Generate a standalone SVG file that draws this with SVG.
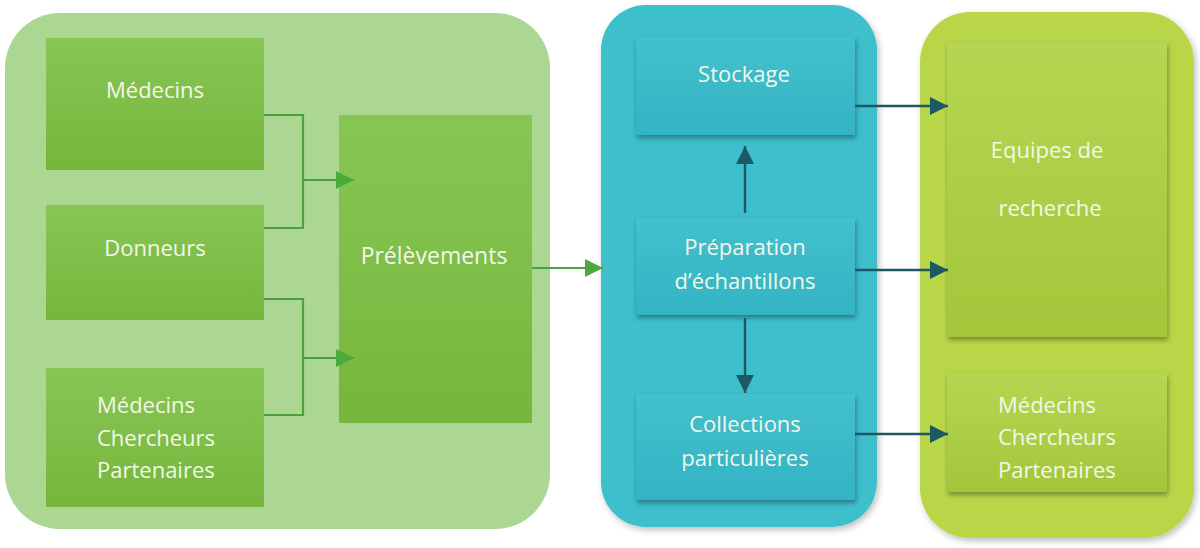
<svg xmlns="http://www.w3.org/2000/svg" width="1200" height="548" viewBox="0 0 1200 548">
<defs>
<linearGradient id="gBox" x1="0" y1="0" x2="0" y2="1">
<stop offset="0" stop-color="#88c654"/><stop offset="1" stop-color="#76b63c"/>
</linearGradient>
<linearGradient id="bBox" x1="0" y1="0" x2="0" y2="1">
<stop offset="0" stop-color="#44c0cd"/><stop offset="1" stop-color="#33b3c3"/>
</linearGradient>
<linearGradient id="yBox" x1="0" y1="0" x2="0" y2="1">
<stop offset="0" stop-color="#b6d652"/><stop offset="1" stop-color="#a3c63a"/>
</linearGradient>
<filter id="sh" x="-10%" y="-10%" width="125%" height="125%">
<feDropShadow dx="1" dy="3" stdDeviation="2.5" flood-color="#000" flood-opacity="0.35"/>
</filter>
<filter id="shC" x="-10%" y="-10%" width="125%" height="125%">
<feDropShadow dx="2" dy="3" stdDeviation="3" flood-color="#000" flood-opacity="0.25"/>
</filter>
<marker id="ag" viewBox="0 0 10 10" refX="10" refY="5" markerWidth="18" markerHeight="18" markerUnits="userSpaceOnUse" orient="auto">
<path d="M0,0 L10,5 L0,10 Z" fill="#4aaa3c"/>
</marker>
<marker id="ab" viewBox="0 0 10 10" refX="10" refY="5" markerWidth="18" markerHeight="18" markerUnits="userSpaceOnUse" orient="auto">
<path d="M0,0 L10,5 L0,10 Z" fill="#1d5866"/>
</marker>
</defs>
<style>
text{font-family:"Open Sans","Noto Sans","Liberation Sans",sans-serif;font-size:22px;fill:#f3f7ea}
.c{text-anchor:middle}
.gl{stroke:#4aa23c;stroke-width:2.2;fill:none}
.bl{stroke:#1d5866;stroke-width:2.4;fill:none}
</style>
<rect width="1200" height="548" fill="#ffffff"/>
<g id="container-left"><rect x="5" y="13" width="545" height="516" rx="55" fill="#abd793"/></g>
<g id="container-mid"><rect x="601" y="5" width="276" height="522" rx="45" fill="#3ebfcc" filter="url(#shC)"/></g>
<g id="container-right"><rect x="920" y="12" width="274" height="526" rx="50" fill="#b9d64a" filter="url(#shC)"/></g>

<g id="medecins"><rect x="46" y="38" width="218" height="132" fill="url(#gBox)"/><text class="c" x="155" y="98">Médecins</text></g>
<g id="donneurs"><rect x="46" y="205" width="218" height="115" fill="url(#gBox)"/><text class="c" x="155" y="256">Donneurs</text></g>
<g id="mcp-left"><rect x="46" y="368" width="218" height="139" fill="url(#gBox)"/>
<text x="97" y="413">Médecins</text><text x="97" y="446">Chercheurs</text><text x="97" y="478">Partenaires</text></g>
<g id="prelevements"><rect x="339" y="115" width="193" height="308" fill="url(#gBox)"/><text class="c" x="434" y="264" style="font-size:23px">Prélèvements</text></g>

<g id="stockage"><rect x="636" y="37" width="219" height="98" fill="url(#bBox)" filter="url(#sh)"/><text class="c" x="744" y="82">Stockage</text></g>
<g id="preparation"><rect x="636" y="218" width="219" height="97" fill="url(#bBox)" filter="url(#sh)"/><text class="c" x="745" y="255">Préparation</text><text class="c" x="745" y="289">d’échantillons</text></g>
<g id="collections"><rect x="636" y="394" width="219" height="106" fill="url(#bBox)" filter="url(#sh)"/><text class="c" x="745" y="432">Collections</text><text class="c" x="745" y="466">particulières</text></g>

<g id="equipes"><rect x="947" y="42" width="220" height="295" fill="url(#yBox)" filter="url(#sh)"/><text class="c" x="1047" y="158">Equipes de</text><text class="c" x="1050" y="216">recherche</text></g>
<g id="mcp-right"><rect x="947" y="373" width="220" height="119" fill="url(#yBox)" filter="url(#sh)"/>
<text x="998" y="413">Médecins</text><text x="998" y="445">Chercheurs</text><text x="998" y="478">Partenaires</text></g>

<g id="connectors">
<path class="gl" d="M264,115 H303 V228 H264"/>
<path class="gl" d="M303,180 H354" marker-end="url(#ag)"/>
<path class="gl" d="M264,299 H303 V415 H264"/>
<path class="gl" d="M303,358 H354" marker-end="url(#ag)"/>
<path class="gl" d="M532,268 H603" marker-end="url(#ag)"/>
<path class="bl" d="M745,213 V146" marker-end="url(#ab)"/>
<path class="bl" d="M745,318 V393" marker-end="url(#ab)"/>
<path class="bl" d="M855,106 H948" marker-end="url(#ab)"/>
<path class="bl" d="M855,270 H948" marker-end="url(#ab)"/>
<path class="bl" d="M855,434 H948" marker-end="url(#ab)"/>
</g>
</svg>
